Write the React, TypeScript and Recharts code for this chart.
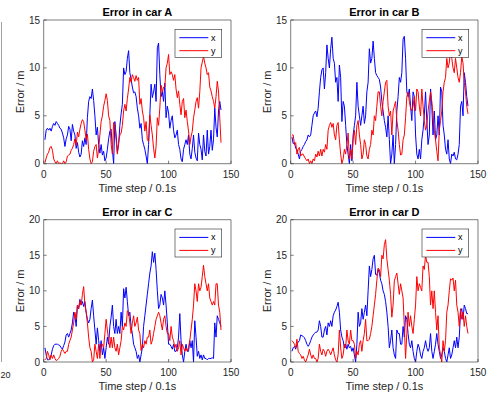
import React from 'react';
import { LineChart, Line, XAxis, YAxis } from 'recharts';

const timeSteps: number[] = Array.from({ length: 142 }, (_, i) => i + 1);
const xTicks = [0, 50, 100, 150];
const yTicksAB = [0, 5, 10, 15];
const yTicksCD = [0, 5, 10, 15, 20];
const seriesNames = ['x', 'y'];
const seriesColors = ['#0000ff', '#ff0000'];

const carAx = [
  2.5, 3.5, 3.7, 3.5, 3.7, 3.4, 3.9, 4.2, 4.0, 4.4,
  4.2, 4.0, 3.7, 3.6, 3.2, 2.7, 1.8, 2.6, 3.0, 3.9,
  3.6, 2.4, 4.1, 3.4, 3.0, 1.6, 2.2, 1.2, 0.7, 1.0,
  2.4, 1.8, 2.7, 2.0, 4.8, 6.5, 7.0, 6.8, 7.8, 6.6,
  5.0, 3.0, 3.8, 2.0, 1.1, 2.0, 0.9, 1.3, 0.3, 0.6,
  1.5, 2.6, 3.4, 3.6, 1.5, 0.0, 4.4, 3.0, 1.2, 2.0,
  4.0, 5.2, 6.2, 10.0, 9.3, 9.6, 11.0, 11.8, 9.5, 8.8,
  8.0, 7.4, 7.5, 7.0, 5.8, 5.0, 3.7, 4.2, 2.5, 2.0,
  1.5, 0.8, 0.0, 2.0, 5.1, 8.3, 6.9, 7.5, 8.3, 6.5,
  12.1, 12.6, 9.3, 7.0, 7.5, 6.5, 8.4, 4.8, 6.0, 5.3,
  3.7, 4.5, 5.0, 3.5, 2.7, 3.0, 3.5, 2.0, 1.5, 0.5,
  0.2, 1.5, 2.0, 2.5, 2.0, 3.0, 1.0, 0.5, 1.6, 3.0,
  1.2, 0.6, 0.3, 3.2, 2.0, 1.5, 0.4, 3.0, 1.3, 0.8,
  3.5, 1.0, 1.8, 3.5, 1.4, 2.5, 5.8, 3.8, 2.8, 5.5, 6.5, 5.6,
];
const carAy = [
  0.1, 0.6, 1.0, 1.2, 1.7, 1.8, 1.4, 0.5, 0.2, 0.0,
  0.3, 0.0, 0.1, 0.0, 0.0, 0.3, 0.0, 0.2, 0.8, 0.9,
  1.0, 1.4, 1.6, 2.0, 2.6, 1.9, 3.3, 2.8, 3.6, 4.2,
  4.6, 4.4, 3.5, 2.5, 3.1, 1.5, 0.5, 0.0, 0.2, 1.3,
  1.8, 2.0, 0.6, 1.5, 3.0, 4.4, 5.0, 6.0, 6.6, 7.3,
  6.6, 5.0, 4.5, 2.0, 1.0, 4.3, 4.0, 2.5, 1.0, 2.2,
  3.0, 3.2, 4.0, 5.5, 6.2, 5.5, 6.8, 7.8, 9.0, 8.5,
  9.3, 9.0, 8.6, 9.2, 8.7, 9.0, 6.2, 6.8, 5.5, 4.8,
  3.4, 4.4, 2.5, 2.3, 5.1, 4.0, 3.0, 1.6, 0.6, 1.8,
  4.8, 4.0, 5.8, 8.2, 7.5, 8.0, 8.0, 10.0, 10.5, 11.4,
  9.3, 9.6, 9.3, 8.7, 9.3, 7.8, 6.9, 7.6, 6.2, 5.1,
  6.5, 6.8, 4.8, 5.6, 4.4, 3.4, 2.0, 2.8, 3.4, 4.8,
  5.6, 6.5, 6.9, 5.8, 7.5, 10.0, 10.6, 11.2, 10.5, 10.0,
  9.3, 9.5, 8.0, 7.6, 7.0, 6.5, 5.8, 7.0, 8.6, 7.6, 4.8, 2.2,
];
const carBx = [
  2.8, 2.1, 2.2, 1.6, 1.5, 1.0, 0.5, 1.3, 1.5, 1.8,
  2.0, 2.3, 2.5, 3.0, 2.8, 3.0, 4.0, 5.0, 5.3, 5.5,
  4.9, 5.8, 7.5, 9.0, 9.8, 10.0, 7.8, 9.5, 12.4, 11.0,
  10.0, 12.0, 13.2, 11.0, 10.5, 8.5, 9.0, 6.5, 10.3, 9.0,
  4.4, 6.5, 6.0, 4.0, 2.0, 1.0, 0.0, 2.0, 0.3, 3.0,
  4.0, 5.0, 8.5, 6.0, 5.0, 4.0, 5.0, 6.0, 4.2, 5.0,
  7.5, 8.5, 12.0, 10.5, 11.0, 12.8, 11.0, 9.5, 9.2, 9.0,
  8.8, 8.0, 6.5, 5.5, 4.5, 3.8, 2.8, 5.0, 2.5, 0.0,
  1.0, 3.0, 0.0, 2.0, 5.5, 7.0, 9.0, 8.5, 9.5, 13.0,
  13.3, 11.0, 7.5, 7.0, 7.8, 6.0, 4.5, 7.5, 7.0, 3.0,
  1.0, 0.5, 1.5, 0.5, 2.5, 3.5, 5.0, 7.5, 4.5, 2.0,
  3.0, 7.8, 6.0, 3.0, 5.5, 2.5, 3.0, 5.0, 3.0, 8.0,
  7.5, 4.0, 3.0, 1.5, 1.0, 2.5, 0.5, 0.0, 1.0, 0.8,
  1.2, 0.5, 0.4, 1.0, 2.0, 6.0, 6.5, 5.0, 9.5, 8.5, 7.0, 6.0,
];
const carBy = [
  3.0, 3.0, 2.0, 2.2, 1.0, 1.5, 1.7, 0.8, 1.0, 1.0,
  0.7, 0.5, 0.3, 0.5, 0.0, 0.3, 0.0, 0.5, 0.3, 1.0,
  0.7, 1.3, 0.8, 1.5, 0.8, 1.5, 1.2, 2.0, 1.5, 3.5,
  4.0, 4.3, 3.8, 4.2, 3.0, 2.5, 4.0, 4.3, 2.5, 1.0,
  0.0, 0.5, 1.5, 1.0, 2.0, 3.2, 0.5, 1.5, 0.5, 2.5,
  3.5, 2.0, 4.0, 4.5, 3.0, 2.0, 0.5, 1.0, 2.5, 2.0,
  0.8, 0.5, 1.5, 2.0, 3.5, 3.0, 5.0, 4.5, 6.0, 7.5,
  7.5, 6.0, 5.0, 6.5, 7.5, 8.5, 8.7, 6.0, 5.0, 5.5,
  3.0, 5.5, 6.0, 6.5, 4.5, 3.5, 2.0, 0.9, 1.0, 2.5,
  3.0, 4.8, 7.0, 7.5, 6.5, 5.8, 5.5, 6.0, 7.0, 5.5,
  7.8, 7.5, 6.0, 5.0, 7.8, 6.0, 4.5, 3.5, 4.0, 5.5,
  6.5, 7.5, 6.5, 5.0, 3.5, 2.5, 1.3, 0.3, 3.5, 4.5,
  5.5, 7.5, 8.5, 9.0, 11.0, 10.0, 10.5, 12.0, 11.0, 10.0,
  9.5, 11.0, 10.0, 9.0, 8.5, 9.5, 11.2, 10.5, 8.5, 7.5, 6.0, 5.2,
];
const carCx = [
  2.0, 1.0, 0.3, 0.3, 0.5, 1.0, 1.8, 2.3, 2.5, 2.5,
  2.5, 2.4, 2.3, 2.0, 1.8, 2.3, 2.8, 3.8, 4.0, 3.5,
  4.0, 4.5, 5.5, 7.0, 6.5, 5.0, 8.0, 7.5, 8.8, 8.0,
  8.5, 7.8, 8.5, 7.0, 6.0, 5.5, 6.0, 7.5, 8.7, 6.5,
  4.5, 2.5, 4.8, 3.0, 1.5, 3.0, 1.0, 2.0, 0.5, 2.0,
  3.5, 2.5, 5.0, 6.3, 8.0, 5.0, 4.0, 6.0, 4.0, 5.0,
  4.0, 7.0, 5.0, 10.3, 9.0, 10.5, 8.5, 6.5, 7.0, 5.0,
  4.0, 2.5, 2.0, 1.5, 0.5, 1.0, 0.0, 1.0, 2.0, 5.0,
  6.5, 8.0, 9.5, 11.0, 12.5, 13.5, 15.5, 14.0, 15.3, 13.0,
  10.0, 7.5, 8.0, 9.5, 9.0, 8.0, 10.0, 8.0, 5.5, 2.5,
  2.5, 2.2, 1.8, 2.5, 1.5, 1.5, 2.0, 3.5, 6.8, 3.0,
  1.0, 0.0, 1.5, 2.5, 1.5, 1.5, 3.0, 2.0, 3.0, 0.0,
  5.8, 3.5, 0.8, 1.5, 0.5, 1.0, 0.3, 1.0, 0.5, 0.5,
  0.3, 0.5, 0.5, 0.5, 0.6, 0.5, 5.5, 3.5, 6.5, 6.0, 5.5, 5.0,
];
const carCy = [
  0.3, 0.5, 1.5, 1.0, 0.3, 1.0, 0.5, 1.0, 0.5, 0.2,
  0.3, 0.5, 0.8, 1.5, 1.8, 1.5, 1.2, 1.5, 1.5, 2.5,
  3.0, 3.5, 4.5, 5.5, 7.0, 6.0, 8.0, 7.5, 8.5, 8.0,
  9.5, 10.6, 8.0, 7.0, 5.5, 3.5, 2.0, 1.5, 0.0, 0.3,
  2.5, 1.5, 0.5, 2.5, 0.5, 2.5, 2.5, 2.0, 4.0, 6.0,
  4.5, 3.0, 2.0, 3.5, 2.0, 3.5, 2.0, 1.5, 2.5, 1.0,
  2.0, 3.0, 5.0, 4.5, 5.5, 5.0, 7.2, 7.0, 5.5, 4.0,
  5.5, 6.5, 5.0, 5.5, 6.3, 4.5, 4.0, 1.6, 2.5, 2.0,
  3.0, 2.5, 3.5, 3.5, 4.5, 2.5, 3.0, 4.0, 5.0, 6.0,
  6.5, 7.0, 6.5, 5.5, 4.5, 6.0, 6.5, 5.0, 4.0, 4.0,
  3.0, 5.0, 3.5, 3.0, 2.0, 2.5, 1.5, 2.0, 3.0, 1.0,
  2.5, 2.0, 1.5, 2.0, 1.5, 2.0, 3.0, 4.5, 6.0, 8.0,
  11.0, 10.0, 8.5, 11.0, 10.0, 10.5, 12.0, 13.6, 12.0, 11.0,
  10.0, 11.0, 9.0, 8.5, 8.0, 8.5, 8.0, 11.0, 11.0, 8.0, 7.0, 4.5,
];
const carDx = [
  1.5, 2.0, 2.2, 1.8, 2.5, 2.8, 3.0, 3.8, 3.7, 3.6,
  3.4, 3.0, 2.5, 2.2, 2.5, 3.0, 3.5, 3.8, 4.0, 4.2,
  4.2, 4.5, 5.8, 5.0, 3.5, 3.5, 4.5, 5.0, 3.8, 5.5,
  5.0, 5.8, 5.0, 6.5, 7.0, 7.3, 7.8, 8.4, 7.0, 4.5,
  3.5, 3.0, 2.0, 2.5, 1.8, 2.5, 2.0, 2.2, 1.5, 2.0,
  1.0, 0.0, 2.5, 7.0, 5.0, 5.5, 7.5, 6.0, 7.0, 8.0,
  6.5, 10.0, 13.5, 12.0, 13.0, 14.5, 15.0, 12.3, 12.2, 13.0,
  12.5, 11.5, 11.0, 10.0, 9.5, 8.5, 7.0, 5.0, 2.0, 3.0,
  4.5, 2.0, 1.0, 0.5, 4.5, 4.0, 4.0, 2.5, 2.5, 5.0,
  3.5, 6.5, 6.0, 4.0, 2.5, 2.0, 3.0, 1.5, 0.5, 0.0,
  1.5, 2.5, 2.0, 1.0, 0.5, 1.5, 2.0, 3.0, 2.0, 1.5,
  2.0, 4.0, 1.5, 0.5, 1.5, 2.5, 4.0, 2.5, 1.5, 0.5,
  1.0, 2.0, 1.5, 0.5, 0.0, 1.0, 2.0, 0.5, 1.0, 2.0,
  3.0, 2.0, 3.5, 2.0, 3.5, 7.0, 7.5, 6.0, 8.0, 7.5, 6.8, 6.8,
];
const carDy = [
  3.0, 2.8, 2.5, 2.0, 3.2, 1.5, 1.2, 1.0, 0.5, 0.8,
  0.3, 0.0, 0.5, 1.0, 1.8, 1.0, 0.5, 1.0, 0.5, 0.5,
  0.0, 0.5, 2.5, 1.5, 1.0, 1.8, 1.5, 0.8, 1.5, 1.8,
  1.5, 1.0, 1.5, 2.0, 1.0, 0.3, 0.0, 1.0, 4.5, 2.0,
  0.5, 1.0, 2.5, 2.0, 4.5, 3.0, 2.5, 4.5, 3.0, 3.0,
  2.5, 0.5, 1.5, 1.0, 2.5, 3.0, 1.5, 3.0, 4.0, 6.0,
  3.0, 3.0, 3.2, 4.0, 5.0, 6.5, 8.0, 9.5, 11.5, 13.2,
  13.0, 12.0, 15.0, 14.5, 16.5, 17.2, 14.5, 13.0, 11.5, 9.5,
  6.3, 8.0, 11.4, 12.0, 12.5, 11.0, 9.5, 11.0, 10.0, 9.0,
  5.0, 0.5, 4.0, 7.0, 5.0, 6.5, 5.0, 4.0, 6.0, 8.0,
  12.0, 10.0, 11.0, 10.5, 10.0, 13.5, 13.0, 15.0, 14.0, 14.0,
  12.0, 8.0, 10.0, 7.5, 10.0, 7.0, 4.5, 6.5, 2.0, 1.0,
  0.0, 3.0, 1.5, 3.0, 7.0, 8.0, 10.0, 11.7, 11.5, 11.8,
  10.0, 11.5, 8.0, 7.0, 5.0, 7.5, 6.0, 7.0, 5.0, 6.5, 5.0, 4.0,
];

const FONT = '"Liberation Sans", Arial, Helvetica, sans-serif';
const AX = '#262626';

type PanelDef = {
  title: string;
  xs: number[];
  ys: number[];
  yTicks: number[];
  left: number;
  top: number;
  width: number;
  height: number;
  plot: { l: number; t: number; r: number; b: number };
};

const panels: PanelDef[] = [
  { title: 'Error in car A', xs: carAx, ys: carAy, yTicks: yTicksAB, left: 0, top: 0, width: 243, height: 197, plot: { l: 43.7, t: 20, r: 231, b: 163.7 } },
  { title: 'Error in car B', xs: carBx, ys: carBy, yTicks: yTicksAB, left: 243, top: 0, width: 244, height: 197, plot: { l: 290.7, t: 20, r: 478, b: 163.7 } },
  { title: 'Error in car C', xs: carCx, ys: carCy, yTicks: yTicksCD, left: 0, top: 197, width: 243, height: 197, plot: { l: 43.7, t: 219.7, r: 231, b: 362 } },
  { title: 'Error in car D', xs: carDx, ys: carDy, yTicks: yTicksCD, left: 243, top: 197, width: 244, height: 197, plot: { l: 290.7, t: 219.7, r: 478, b: 362 } },
];

const axisLine = { stroke: AX, strokeWidth: 0.6 };
const tickStyle = { fill: AX, fontSize: 10, fontFamily: FONT };

function Panel({ p }: { p: PanelDef }) {
  const data = timeSteps.map((t, i) => ({ t, x: p.xs[i], y: p.ys[i] }));
  const yMax = p.yTicks[p.yTicks.length - 1];
  const margin = {
    left: p.plot.l - p.left - 30,
    top: p.plot.t - p.top - 1,
    right: p.left + p.width - p.plot.r - 1,
    bottom: p.top + p.height - p.plot.b - 20,
  };
  return (
    <div style={{ position: 'absolute', left: p.left, top: p.top }}>
      <LineChart width={p.width} height={p.height} data={data} margin={margin}>
        <XAxis xAxisId="b" dataKey="t" type="number" domain={[0, 150]} ticks={xTicks} allowDataOverflow interval={0}
          height={20} tickSize={-3} tickMargin={10} axisLine={axisLine} tickLine={axisLine} tick={tickStyle} />
        <XAxis xAxisId="t" dataKey="t" orientation="top" type="number" domain={[0, 150]} ticks={xTicks} allowDataOverflow interval={0}
          height={1} tickSize={-3} axisLine={axisLine} tickLine={axisLine} tick={false} />
        <YAxis yAxisId="l" type="number" domain={[0, yMax]} ticks={p.yTicks} allowDataOverflow interval={0}
          width={30} tickSize={-3} tickMargin={6.7} axisLine={axisLine} tickLine={axisLine} tick={tickStyle} />
        <YAxis yAxisId="r" orientation="right" type="number" domain={[0, yMax]} ticks={p.yTicks} allowDataOverflow interval={0}
          width={1} tickSize={-3} axisLine={axisLine} tickLine={axisLine} tick={false} />
        {seriesNames.map((k, i) => (
          <Line key={k} xAxisId="b" yAxisId="l" type="linear" dataKey={k} stroke={seriesColors[i]} strokeWidth={1}
            dot={false} activeDot={false} isAnimationActive={false} />
        ))}
      </LineChart>
    </div>
  );
}

function Overlay() {
  return (
    <svg width={487} height={394} style={{ position: 'absolute', left: 0, top: 0, pointerEvents: 'none' }}>
      <line x1={1.5} y1={22} x2={1.5} y2={362} stroke="#888" strokeWidth={0.8} />
      <text x={0.5} y={377.5} textAnchor="start" fontSize={9} fontFamily={FONT} fill={AX}>20</text>
      {panels.map((p) => {
        const cx = (p.plot.l + p.plot.r) / 2;
        const cy = (p.plot.t + p.plot.b) / 2;
        const bx = p.plot.r - 9.3 - 46.7;
        const by = p.plot.t + 9.3;
        return (
          <g key={p.title}>
            <text x={cx} y={p.plot.t - 4} textAnchor="middle" fontSize={11} fontWeight="bold" fontFamily={FONT} fill="#000">{p.title}</text>
            <text x={cx} y={p.plot.b + 27.8} textAnchor="middle" fontSize={11} fontFamily={FONT} fill={AX}>Time step / 0.1s</text>
            <text x={p.plot.l - 19.5} y={cy} textAnchor="middle" fontSize={11} fontFamily={FONT} fill={AX}
              transform={`rotate(-90 ${p.plot.l - 19.5} ${cy})`}>Error / m</text>
            <rect x={bx} y={by} width={46.7} height={28} fill="#fff" stroke={AX} strokeWidth={0.6} />
            {seriesNames.map((k, i) => (
              <g key={k}>
                <line x1={bx + 4.3} x2={bx + 33.3} y1={by + 8.4 + i * 13} y2={by + 8.4 + i * 13} stroke={seriesColors[i]} strokeWidth={1} />
                <text x={bx + 36} y={by + 11.4 + i * 13} fontSize={9} fontFamily={FONT} fill="#000">{k}</text>
              </g>
            ))}
          </g>
        );
      })}
    </svg>
  );
}

export default function App() {
  return (
    <div style={{ position: 'absolute', left: 0, top: 0, width: 487, height: 394, background: '#fff', overflow: 'hidden' }}>
      {panels.map((p) => <Panel key={p.title} p={p} />)}
      <Overlay />
    </div>
  );
}
